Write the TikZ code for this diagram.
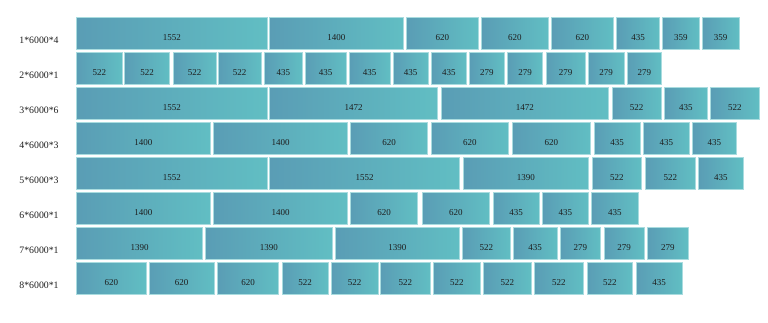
\documentclass[tikz,border=0pt]{standalone}
\usepackage{fontspec}
\setmainfont{Liberation Serif}
\definecolor{cleft}{HTML}{5A9DB5}
\definecolor{cright}{HTML}{61BEC3}
\definecolor{cedge}{HTML}{A9DCDF}
\definecolor{ctext}{HTML}{1E1E1E}
\tikzset{
  barbox/.style={draw=cedge, line width=0.6pt, left color=cleft, right color=cright,
    anchor=north west, inner sep=0pt, minimum height=31.3pt,
    text height=14pt, text depth=0pt, font=\fontsize{9}{10}\selectfont, text=ctext},
  rowlabel/.style={inner sep=0pt, font=\fontsize{9.8}{11}\selectfont, text=ctext}
}
\begin{document}
\begin{tikzpicture}[x=1pt,y=1pt]
\useasboundingbox (0,0) rectangle (768,-323);
\newcommand{\barrow}[3]{%
  \node[rowlabel] (lab#1) at (39,{-(#2+22.6)}) {#1*6000*\csname rowmul#1\endcsname};
  \foreach \a/\b/\t [count=\i] in {#3} {
    \node[barbox, minimum width={\b-\a}] (r#1b\i) at (\a,-#2) {\t};
  }%
}
\expandafter\def\csname rowmul1\endcsname{4}
\expandafter\def\csname rowmul2\endcsname{1}
\expandafter\def\csname rowmul3\endcsname{6}
\expandafter\def\csname rowmul4\endcsname{3}
\expandafter\def\csname rowmul5\endcsname{3}
\expandafter\def\csname rowmul6\endcsname{1}
\expandafter\def\csname rowmul7\endcsname{1}
\expandafter\def\csname rowmul8\endcsname{1}
\barrow{1}{17.4}{76.3/266.7/1552, 269.3/403/1400, 406.3/477.7/620, 481/548/620, 551/613.3/620, 616.3/659.3/435, 662.3/698.7/359, 702/738.7/359}
\barrow{2}{52.3}{76.3/121.7/522, 124.3/169.3/522, 172.7/215.7/522, 217.7/261/522, 264.3/301.7/435, 304.7/346/435, 349/389.7/435, 393/427.7/435, 431/466.3/435, 469.3/504/279, 507.3/542.3/279, 545.7/585/279, 588/623.7/279, 627/661.3/279}
\barrow{3}{87.5}{76.3/266.7/1552, 269.3/437.3/1472, 441/608.3/1472, 612/660.7/522, 664.3/707/435, 710/759.3/522}
\barrow{4}{122.4}{76.3/210/1400, 213.3/347.3/1400, 350.3/427.3/620, 431/508.3/620, 511.7/590.3/620, 593.7/640/435, 643/689/435, 692.3/736/435}
\barrow{5}{157.4}{76.3/266.7/1552, 269.3/459.3/1552, 462.7/588.3/1390, 592/641.3/522, 645.3/694.7/522, 698.3/742.7/435}
\barrow{6}{192.3}{76.3/210/1400, 213.3/347.3/1400, 350.3/417.3/620, 422/489.3/620, 492.7/539/435, 542/588.3/435, 591.3/638/435}
\barrow{7}{227.3}{76.3/202.3/1390, 205.3/332/1390, 335/459.3/1390, 462/510/522, 513/556.7/435, 559.7/600.3/279, 603.7/644/279, 647.3/687.7/279}
\barrow{8}{262.2}{76.3/145.7/620, 148.7/214/620, 217.3/278.3/620, 281.7/327.7/522, 331/377.7/522, 380.3/430/522, 433.3/480/522, 483.3/530.7/522, 534/583.3/522, 586.7/632.3/522, 635.7/681.7/435}
\end{tikzpicture}
\end{document}
